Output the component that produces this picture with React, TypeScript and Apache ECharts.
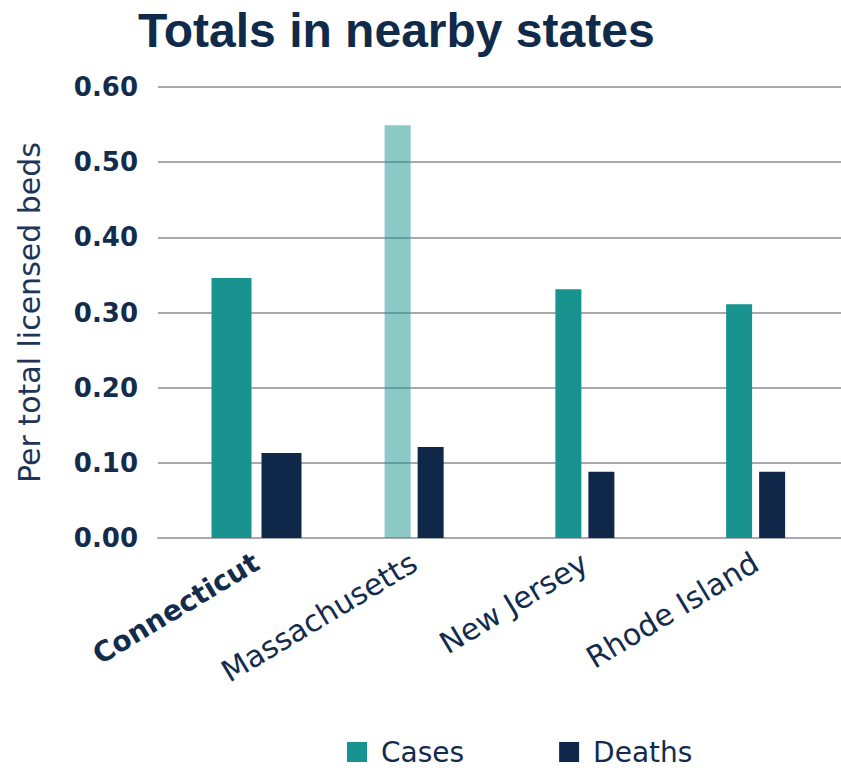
import React, { useEffect, useRef } from "react";
import * as echarts from "echarts";

const categories = ["Connecticut", "Massachusetts", "New Jersey", "Rhode Island"];
const cases = [0.346, 0.549, 0.331, 0.311];
const deaths = [0.113, 0.121, 0.088, 0.088];
const yTicks = [0, 0.1, 0.2, 0.3, 0.4, 0.5, 0.6];

const TEAL = "#18938f";
const NAVY = "#0f2849";
const TEXT = "#142c4c";
const GRID = "#a7aaae";
const FONT = "DejaVu Sans";

export default function App() {
  const ref = useRef<HTMLDivElement>(null);
  useEffect(() => {
    document.body.style.margin = "0";
    if (!ref.current) return;
    const chart = echarts.init(ref.current, undefined, { renderer: "svg" });
    const casesMain = cases.map((v, i) =>
      i === 0 ? "-" : i === 1 ? { value: v, itemStyle: { opacity: 0.5 } } : v
    );
    const deathsMain = deaths.map((v, i) => (i === 0 ? "-" : v));
    const casesCT = cases.map((v, i) => (i === 0 ? v : "-"));
    const deathsCT = deaths.map((v, i) => (i === 0 ? v : "-"));
    chart.setOption({
      animation: false,
      textStyle: { fontFamily: FONT },
      title: {
        text: "Totals in nearby states",
        left: 133,
        top: 1,
        textStyle: {
          fontFamily: "Liberation Sans",
          fontWeight: "bold",
          fontSize: 48,
          color: "#102a4a",
        },
      },
      legend: {
        left: 342,
        top: 733,
        itemWidth: 20,
        itemHeight: 20,
        itemGap: 95,
        icon: "rect",
        data: ["Cases", "Deaths"],
        textStyle: { fontFamily: FONT, fontSize: 28, color: TEXT, padding: [0, 0, 0, 9] },
      },
      grid: [
        { left: 158, top: 87, width: 694, height: 451 },
        { left: 173, top: 87, width: 694, height: 451 },
      ],
      xAxis: [
        {
          type: "category",
          gridIndex: 0,
          data: categories,
          axisTick: { show: false },
          axisLine: { lineStyle: { color: GRID, width: 2 } },
          axisLabel: {
            rotate: 31,
            margin: 22,
            fontSize: 30,
            fontFamily: FONT,
            color: TEXT,
            interval: 0,
            formatter: (v: string, i: number) => (i === 0 ? "" : v),
          },
        },
        {
          type: "category",
          gridIndex: 1,
          data: categories,
          axisTick: { show: false },
          axisLine: { show: false },
          axisLabel: {
            rotate: 31,
            margin: 22,
            fontSize: 28,
            fontFamily: FONT,
            color: TEXT,
            interval: 0,
            formatter: (v: string, i: number) => (i === 0 ? "{b|" + v + "}" : ""),
            rich: { b: { fontWeight: "bold", fontSize: 28, fontFamily: FONT, color: TEXT } },
          },
        },
      ],
      yAxis: [
        {
          type: "value",
          gridIndex: 0,
          min: yTicks[0],
          max: yTicks[yTicks.length - 1],
          interval: 0.1,
          name: "Per total licensed beds",
          nameLocation: "middle",
          nameRotate: 90,
          nameGap: 114,
          nameTextStyle: { fontFamily: FONT, fontSize: 30, color: "#1d3557" },
          axisLine: { show: false },
          axisTick: { show: false },
          axisLabel: {
            margin: 20,
            fontSize: 26,
            fontWeight: "bold",
            fontFamily: FONT,
            color: TEXT,
            formatter: (v: number) => v.toFixed(2),
          },
          splitLine: { lineStyle: { color: GRID, width: 2 } },
        },
        {
          type: "value",
          gridIndex: 1,
          min: yTicks[0],
          max: yTicks[yTicks.length - 1],
          interval: 0.1,
          show: false,
          splitLine: { show: false },
        },
      ],
      series: [
        {
          name: "Cases",
          type: "bar",
          xAxisIndex: 0,
          yAxisIndex: 0,
          data: casesMain,
          barWidth: 26,
          barGap: "27%",
          itemStyle: { color: TEAL },
        },
        {
          name: "Deaths",
          type: "bar",
          xAxisIndex: 0,
          yAxisIndex: 0,
          data: deathsMain,
          barWidth: 26,
          barGap: "27%",
          itemStyle: { color: NAVY },
        },
        {
          name: "Cases",
          type: "bar",
          xAxisIndex: 1,
          yAxisIndex: 1,
          data: casesCT,
          barWidth: 40,
          barGap: "25%",
          itemStyle: { color: TEAL },
        },
        {
          name: "Deaths",
          type: "bar",
          xAxisIndex: 1,
          yAxisIndex: 1,
          data: deathsCT,
          barWidth: 40,
          barGap: "25%",
          itemStyle: { color: NAVY },
        },
      ],
    });
    return () => chart.dispose();
  }, []);
  return <div ref={ref} style={{ width: 841, height: 768 }} />;
}
